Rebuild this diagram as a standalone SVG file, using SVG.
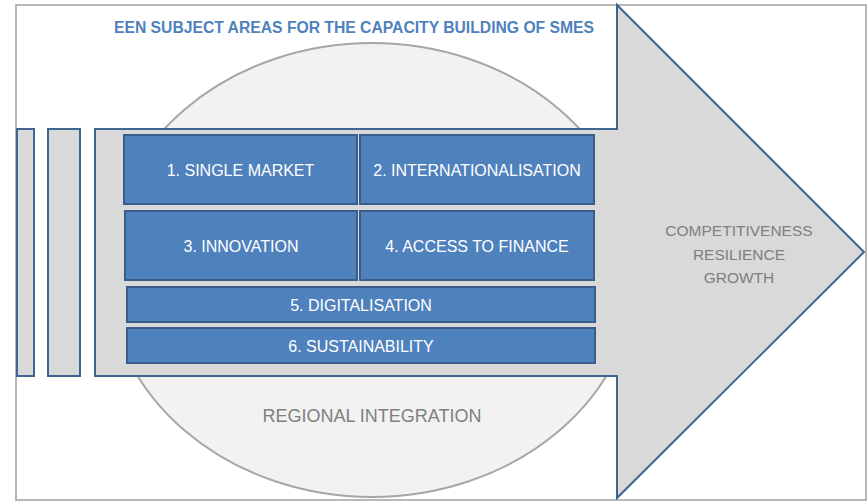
<svg xmlns="http://www.w3.org/2000/svg" width="868" height="502" viewBox="0 0 868 502">
<style>
.box{fill:#4f81bd;stroke:#385d8a;stroke-width:2}
.bar{fill:#d9d9d9;stroke:#3f6591;stroke-width:2}
.lbl{font-family:"Liberation Sans",Arial,sans-serif;font-size:16px;fill:#ffffff;text-anchor:middle}
.gry{font-family:"Liberation Sans",Arial,sans-serif;fill:#7f7f7f;text-anchor:middle}
</style>
<rect x="0" y="0" width="868" height="502" fill="#ffffff"/>
<rect x="16" y="5" width="850" height="495" fill="#ffffff" stroke="#a0a0a0" stroke-width="1.5"/>
<g id="regional">
<ellipse cx="372" cy="270" rx="265" ry="227" fill="#f2f2f2" stroke="#a6a6a6" stroke-width="2"/>
<text class="gry" x="372" y="422" font-size="18">REGIONAL INTEGRATION</text>
</g>
<g id="bar1"><rect class="bar" x="17" y="129" width="17" height="247"/></g>
<g id="bar2"><rect class="bar" x="48" y="129" width="32" height="247"/></g>
<g id="arrow">
<polygon points="95,129 617,129 617,5 864,252 617,498 617,376 95,376" fill="#d9d9d9" stroke="#3f6591" stroke-width="2" stroke-linejoin="miter"/>
<text class="gry" x="739" y="236" font-size="15.5">COMPETITIVENESS</text>
<text class="gry" x="739" y="259.5" font-size="15.5">RESILIENCE</text>
<text class="gry" x="739" y="283" font-size="15.5">GROWTH</text>
</g>
<g id="title">
<text x="354" y="33" font-family="'Liberation Sans',Arial,sans-serif" font-size="16" font-weight="bold" fill="#4f81bd" text-anchor="middle" textLength="480" lengthAdjust="spacingAndGlyphs">EEN SUBJECT AREAS FOR THE CAPACITY BUILDING OF SMES</text>
</g>
<g id="box1"><rect class="box" x="124" y="135" width="233" height="69"/><text class="lbl" x="240.5" y="175.5">1. SINGLE MARKET</text></g>
<g id="box2"><rect class="box" x="360" y="135" width="234" height="69"/><text class="lbl" x="477" y="175.5">2. INTERNATIONALISATION</text></g>
<g id="box3"><rect class="box" x="125" y="211" width="232" height="69"/><text class="lbl" x="241" y="251.5">3. INNOVATION</text></g>
<g id="box4"><rect class="box" x="360" y="211" width="234" height="69"/><text class="lbl" x="477" y="251.5">4. ACCESS TO FINANCE</text></g>
<g id="box5"><rect class="box" x="127" y="287" width="468" height="35"/><text class="lbl" x="361" y="310.5">5. DIGITALISATION</text></g>
<g id="box6"><rect class="box" x="127" y="328" width="468" height="35"/><text class="lbl" x="361" y="351.5">6. SUSTAINABILITY</text></g>
<g id="connectors"></g>
</svg>
